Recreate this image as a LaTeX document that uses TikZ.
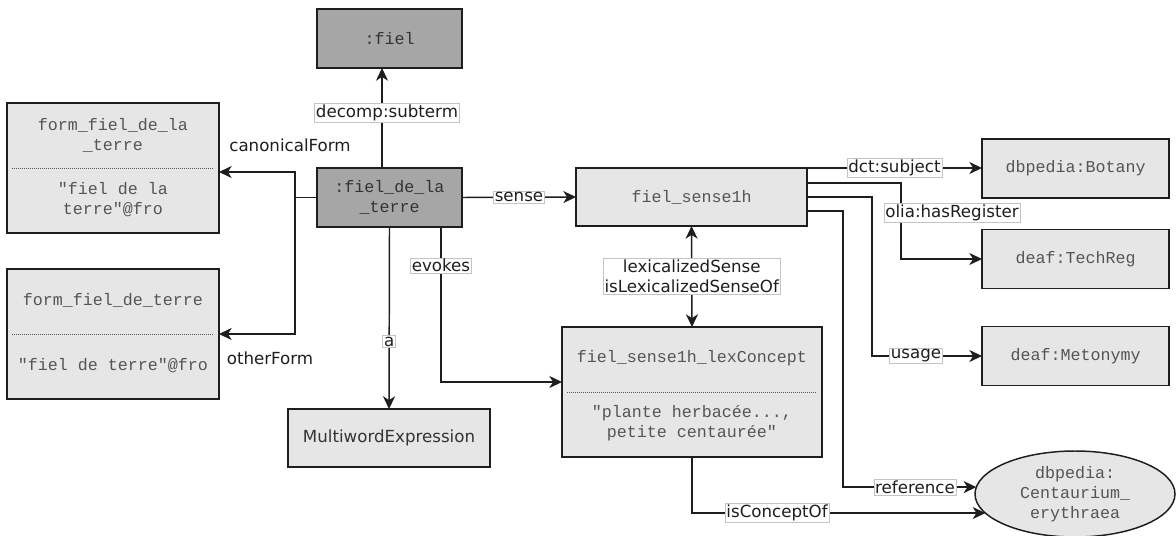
\documentclass[tikz,border=0pt]{standalone}
\usepackage{fontspec}
\setmainfont{DejaVu Sans}
\newfontfamily\lxmono{Liberation Mono}
\usetikzlibrary{arrows.meta,calc,shapes.geometric}
\definecolor{lxInk}{HTML}{1E1E1E}
\definecolor{lxText}{HTML}{333333}
\definecolor{lxCode}{HTML}{555555}
\definecolor{lxPale}{HTML}{E6E6E6}
\definecolor{lxDark}{HTML}{A6A6A6}
\definecolor{lxFrame}{HTML}{C4C4C4}
\tikzset{
  lx box/.style={
    draw=lxInk, fill=lxPale, line width=1.1pt,
    inner sep=0pt, outer sep=0pt, align=center,
    font=\lxmono\fontsize{12.5}{15}\selectfont, text=lxCode
  },
  lx term/.style={lx box, fill=lxDark, text=lxText,
    minimum width=108.75pt, minimum height=44.25pt},
  lx entry/.style={lx box, minimum width=140.25pt, minimum height=44.25pt},
  lx form/.style={lx box, minimum width=159pt, minimum height=97.5pt},
  lx code/.style={inner sep=0pt, align=center,
    font=\lxmono\fontsize{12.5}{15}\selectfont, text=lxCode},
  lx split/.style={draw=lxCode, line width=.45pt,
    dash pattern=on .7pt off .8pt},
  lx plain/.style={draw=lxInk, line width=1.1pt},
  lx link/.style={
    lx plain,
    -{Stealth[length=9.5pt,width=9pt,inset=2.8pt]}
  },
  lx both/.style={
    lx plain,
    {Stealth[length=9.5pt,width=9pt,inset=2.8pt]}-{Stealth[length=9.5pt,width=9pt,inset=2.8pt]}
  },
  lx label/.style={fill=white, draw=lxFrame, line width=.5pt,
    inner sep=1pt, align=center,
    font=\fontsize{12.5}{15}\selectfont, text=lxInk},
  lx note/.style={inner sep=0pt, font=\fontsize{12.5}{15}\selectfont, text=lxInk}
}

\begin{document}
\begin{tikzpicture}[x=.75pt,y=-.75pt]
  \path[fill=white, use as bounding box] (0,0) rectangle (1176,535);

  \node[lx term] (fiel) at (389.5,38.5) {:fiel};
  \node[lx term] (fdlt) at (389.5,197.5) {:fiel\_de\_la\\\_terre};

  \node[lx form] (canon) at (113,168) {};
  \draw[lx split] ($(canon.west)+(5,0)$) -- ($(canon.east)+(-5,0)$);
  \node[lx code] (canonname) at (113,135) {form\_fiel\_de\_la\\\_terre};
  \node[lx code] (canonrep) at (113,200) {"fiel de la\\terre"@fro};

  \node[lx form] (other) at (113,334) {};
  \draw[lx split] ($(other.west)+(5,0)$) -- ($(other.east)+(-5,0)$);
  \node[lx code] (othername) at (113,300) {form\_fiel\_de\_terre};
  \node[lx code] (otherrep) at (113,366) {"fiel de terre"@fro};

  \node[lx box, font=\fontsize{12.5}{15}\selectfont, text=lxText,
    minimum width=151.5pt, minimum height=43.5pt] (mwe) at (389,438) {MultiwordExpression};

  \node[lx box, minimum width=173.25pt, minimum height=43.5pt] (sense) at (691.5,197) {fiel\_sense1h};
  \node[lx box, minimum width=195pt, minimum height=97.5pt] (concept) at (692,392) {};
  \draw[lx split] ($(concept.west)+(5,0)$) -- ($(concept.east)+(-5,0)$);
  \node[lx code] (conceptname) at (692,358) {fiel\_sense1h\_lexConcept};
  \node[lx code] (conceptdef) at (692,423) {"plante herbacée...,\\petite centaurée"};

  \node[lx entry] (botany) at (1075.5,168.5) {dbpedia:Botany};
  \node[lx entry] (techreg) at (1075.5,259) {deaf:TechReg};
  \node[lx entry] (meto) at (1075.5,356) {deaf:Metonymy};
  \node[lx box, ellipse, minimum width=150pt, minimum height=64.5pt] (centaur) at (1075,494)
    {dbpedia:\\Centaurium\_\\erythraea};

  \draw[lx link] ($(fdlt.north)+(-7.5,0)$) -- ($(fiel.south)+(-7.5,0)$)
    node[lx label, pos=.55, xshift=3.75pt] (subtermlbl) {decomp:subterm};

  \coordinate (fork) at (295,197.5);
  \draw[lx plain] (fdlt.west) -- (fork);
  \draw[lx link] (fork) |- ($(canon.east)+(0,4)$);
  \draw[lx link] (fork) |- (other.east);
  \node[lx note] (canonlbl) at (290,145) {canonicalForm};
  \node[lx note] (otherlbl) at (270,358) {otherForm};

  \draw[lx link] (fdlt.south) -- (mwe.north) node[lx label, pos=.63] (albl) {a};
  \draw[lx link] ($(fdlt.south)+(51.5,0)$) |- ($(concept.west)+(0,-10)$)
    node[lx label, pos=.125] (evokeslbl) {evokes};
  \draw[lx link] (fdlt.east) -- (sense.west) node[lx label, midway] (senselbl) {sense};
  \draw[lx both] (sense.south) -- (concept.north)
    node[lx label, midway] (lexlbl) {lexicalizedSense\\isLexicalizedSenseOf};

  \draw[lx link] (sense.north east) -- (sense.north east -| botany.west)
    node[lx label, midway] (subjectlbl) {dct:subject};
  \draw[lx link] ($(sense.north east)+(0,15)$) -| (901,213)
    node[lx label, xshift=38.25pt] (registerlbl) {olia:hasRegister} |- (techreg.west);
  \draw[lx link] (sense.east) -| (872,300) |- (meto.west)
    node[lx label, pos=.7] (usagelbl) {usage};
  \draw[lx link] ($(sense.east)+(0,14)$) -| (843,400) |- (centaur.176)
    node[lx label, pos=.77] (referencelbl) {reference};
  \draw[lx link] (concept.south) |- (centaur.192)
    node[lx label, pos=.645] (conceptoflbl) {isConceptOf};
\end{tikzpicture}
\end{document}
